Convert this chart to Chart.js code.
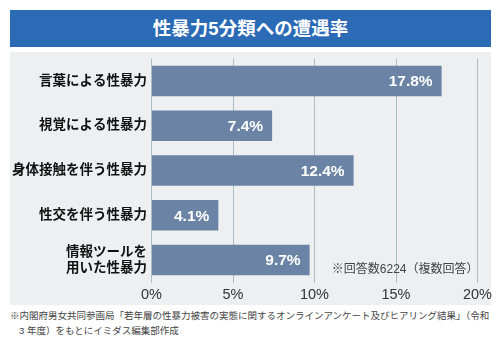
<!DOCTYPE html>
<html>
<head>
<meta charset="utf-8">
<script src="https://cdn.jsdelivr.net/npm/chart.js@4"></script>
<style>
body { margin: 0; width: 500px; height: 342px; background: #fff; position: relative; overflow: hidden;
  font-family: 'Liberation Sans', 'Noto Sans CJK JP', sans-serif; }
#title { position: absolute; left: 10px; top: 10px; width: 481px; height: 37px; background: #2b6ab4;
  color: #fff; font-weight: bold; font-size: 18.5px; line-height: 38px; text-align: center; }
#panel { position: absolute; left: 10px; top: 52px; width: 481px; height: 253px; background: #eeeff0; }
#chart { position: absolute; left: 0; top: 52px; }
.note { position: absolute; left: 10px; font-size: 9.5px; line-height: 14px; color: #444; white-space: nowrap; }
</style>
</head>
<body>
<div id="title">性暴力5分類への遭遇率</div>
<div id="panel"></div>
<canvas id="chart" width="500" height="253"></canvas>
<div class="note" style="top:309px">※内閣府男女共同参画局「若年層の性暴力被害の実態に関するオンラインアンケート及びヒアリング結果」（令和</div>
<div class="note" style="top:324px; padding-left:9px">3 年度）をもとにイミダス編集部作成</div>
<script>
const categories = [
    '言葉による性暴力',
    '視覚による性暴力',
    '身体接触を伴う性暴力',
    '性交を伴う性暴力',
    ['情報ツールを', '用いた性暴力']
];
const rates = [17.8, 7.4, 12.4, 4.1, 9.7];
const xTicks = [0, 5, 10, 15, 20];
const note = '※回答数6224（複数回答）';

const font = "'Liberation Sans', 'Noto Sans CJK JP', sans-serif";

// value labels inside the bars + the answer count note
const labelsPlugin = {
    id: 'labels',
    afterDatasetsDraw(chart) {
        const ctx = chart.ctx;
        const meta = chart.getDatasetMeta(0);
        ctx.save();
        ctx.fillStyle = '#fff';
        ctx.font = 'bold 15.5px ' + font;
        ctx.textAlign = 'right';
        ctx.textBaseline = 'middle';
        meta.data.forEach((bar, i) => {
            ctx.fillText(rates[i].toFixed(1) + '%', bar.x - 9, bar.y + 1);
        });
        ctx.fillStyle = '#444';
        ctx.font = '12px ' + font;
        ctx.fillText(note, chart.chartArea.right + 1, 218);
        ctx.restore();
    }
};

new Chart(document.getElementById('chart'), {
    type: 'bar',
    data: {
        labels: categories,
        datasets: [{
            data: rates,
            backgroundColor: '#6b84a5',
            barPercentage: 0.68,
            categoryPercentage: 1
        }]
    },
    options: {
        indexAxis: 'y',
        responsive: false,
        animation: false,
        layout: { padding: { top: 6.5, right: 22.5, left: 0, bottom: 0 } },
        plugins: { legend: { display: false }, tooltip: { enabled: false } },
        scales: {
            x: {
                min: 0,
                max: 20,
                afterBuildTicks: s => { s.ticks = xTicks.map(v => ({ value: v })); },
                afterFit: s => { s.height = 22.5; s.paddingLeft = 0; s.paddingRight = 0; },
                ticks: {
                    callback: v => v + '%',
                    color: '#333',
                    font: { size: 14.5, family: font },
                    padding: 4
                },
                grid: { color: '#a9bdcb', drawTicks: false },
                border: { display: false }
            },
            y: {
                afterFit: s => { s.width = 151.5; s.paddingTop = 0; s.paddingBottom = 0; },
                ticks: {
                    color: '#111',
                    font: { size: 13.5, weight: 'bold', family: font, lineHeight: 1.23 },
                    padding: 4.5
                },
                grid: { display: false, drawTicks: false },
                border: { display: false }
            }
        }
    },
    plugins: [labelsPlugin]
});
</script>
</body>
</html>
